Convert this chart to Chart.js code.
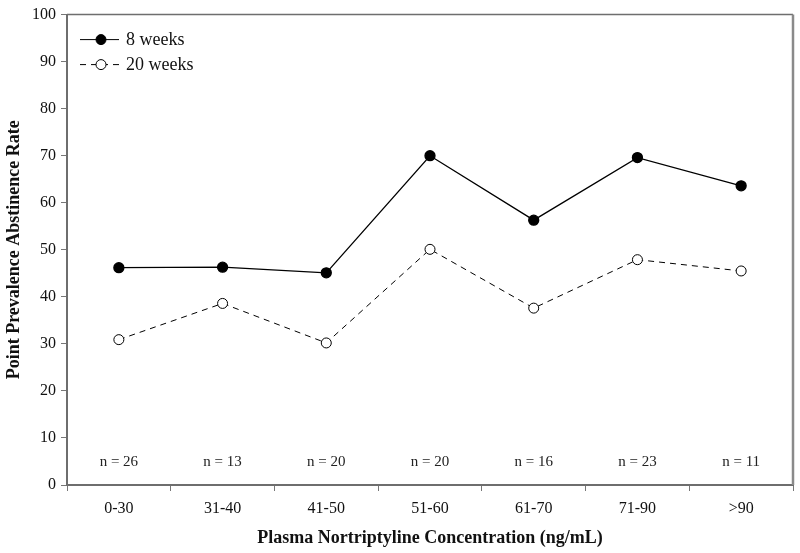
<!DOCTYPE html>
<html>
<head>
<meta charset="utf-8">
<script src="https://cdn.jsdelivr.net/npm/chart.js@4"></script>
<style>
  html, body { margin: 0; padding: 0; background: #fff; }
  #wrap { width: 800px; height: 553px; }
</style>
</head>
<body>
<div id="wrap"><canvas id="abstinenceChart"></canvas></div>
<script>
var concentrationBins = ['0-30', '31-40', '41-50', '51-60', '61-70', '71-90', '>90'];
var week8Rates = [46.2, 46.3, 45.1, 70.0, 56.3, 69.6, 63.6];
var week20Rates = [30.9, 38.6, 30.2, 50.1, 37.6, 47.9, 45.5];
var sampleSizes = [26, 13, 20, 20, 16, 23, 11];
var yTicks = { min: 0, max: 100, step: 10 };

var serif = '"Liberation Serif", "DejaVu Serif", serif';

// frame, n labels and legend inside the plot
var extras = {
  id: 'extras',
  afterDatasetsDraw: function (chart) {
    var ctx = chart.ctx;
    var area = chart.chartArea;
    var x = chart.scales.x;
    var y = chart.scales.y;
    ctx.save();
    ctx.strokeStyle = '#6e6e6e';
    ctx.lineWidth = 1.5;
    ctx.beginPath();
    ctx.moveTo(area.left, area.top);
    ctx.lineTo(area.right, area.top);
    ctx.stroke();
    ctx.lineWidth = 2.5;
    ctx.strokeStyle = '#8a8a8a';
    ctx.beginPath();
    ctx.moveTo(area.right, area.top);
    ctx.lineTo(area.right, area.bottom);
    ctx.stroke();

    ctx.fillStyle = '#222';
    ctx.font = '15px ' + serif;
    ctx.textAlign = 'center';
    ctx.textBaseline = 'middle';
    sampleSizes.forEach(function (n, i) {
      ctx.fillText('n = ' + n, x.getPixelForValue(i), y.getPixelForValue(5) + 1);
    });

    // legend
    var items = [
      { label: '8 weeks', dash: [], fill: '#000' },
      { label: '20 weeks', dash: [6, 5], fill: '#fff' }
    ];
    ctx.textAlign = 'left';
    ctx.font = '18px ' + serif;
    items.forEach(function (it, i) {
      var ly = area.top + 25 + i * 25;
      ctx.strokeStyle = '#000';
      ctx.lineWidth = 1;
      ctx.setLineDash(it.dash);
      ctx.beginPath();
      ctx.moveTo(area.left + 13, ly);
      ctx.lineTo(area.left + 52, ly);
      ctx.stroke();
      ctx.setLineDash([]);
      ctx.beginPath();
      ctx.arc(area.left + 34, ly, 5, 0, Math.PI * 2);
      ctx.fillStyle = it.fill;
      ctx.fill();
      ctx.stroke();
      ctx.fillStyle = '#111';
      ctx.fillText(it.label, area.left + 59, ly + 1);
    });
    ctx.restore();
  }
};

new Chart(document.getElementById('abstinenceChart'), {
  type: 'line',
  data: {
    labels: concentrationBins,
    datasets: [{
      label: '8 weeks',
      data: week8Rates,
      borderColor: '#000',
      borderWidth: 1.3,
      backgroundColor: '#000',
      pointBackgroundColor: '#000',
      pointBorderColor: '#000',
      pointRadius: 5,
      tension: 0
    }, {
      label: '20 weeks',
      data: week20Rates,
      borderColor: '#000',
      borderWidth: 1,
      borderDash: [6, 5],
      pointBackgroundColor: '#fff',
      pointBorderColor: '#000',
      pointBorderWidth: 1,
      pointRadius: 5,
      tension: 0
    }]
  },
  options: {
    responsive: true,
    maintainAspectRatio: false,
    animation: false,
    layout: { padding: { left: 0, right: 7, top: 13, bottom: 0 } },
    plugins: {
      legend: { display: false },
      tooltip: { enabled: false }
    },
    scales: {
      x: {
        offset: true,
        afterFit: function (s) { s.height = 68; },
        grid: {
          offset: true,
          drawOnChartArea: false,
          tickLength: 6,
          color: '#777'
        },
        border: { color: '#6e6e6e', width: 2 },
        ticks: {
          color: '#111',
          padding: 8,
          font: { family: serif, size: 16 }
        },
        title: {
          display: true,
          text: 'Plasma Nortriptyline Concentration (ng/mL)',
          color: '#111',
          padding: { top: 0, bottom: 4 },
          font: { family: serif, size: 18, weight: 'bold' }
        }
      },
      y: {
        min: yTicks.min,
        max: yTicks.max,
        afterFit: function (s) { s.width = 67; },
        grid: {
          drawOnChartArea: false,
          tickLength: 6,
          color: '#777'
        },
        border: { color: '#6e6e6e', width: 2 },
        ticks: {
          stepSize: yTicks.step,
          color: '#111',
          padding: 5,
          font: { family: serif, size: 16 }
        },
        title: {
          display: true,
          text: 'Point Prevalence Abstinence Rate',
          color: '#111',
          padding: { top: 4, bottom: 0 },
          font: { family: serif, size: 18, weight: 'bold' }
        }
      }
    }
  },
  plugins: [extras]
});
</script>
</body>
</html>
